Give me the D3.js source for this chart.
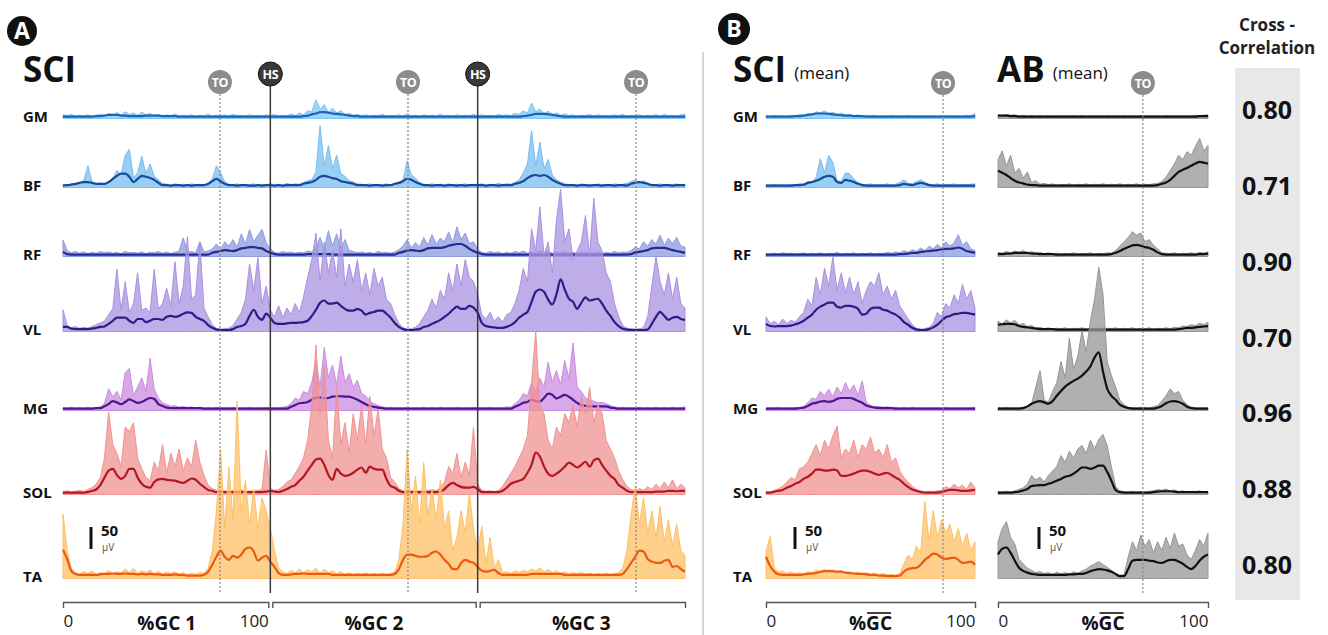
<!DOCTYPE html>
<html>
<head>
<meta charset="utf-8">
<script src="https://cdn.jsdelivr.net/npm/d3@7"></script>
<style>
  body { margin: 0; background: #fff; }
  svg { display: block; font-family: 'Open Sans', sans-serif; }
</style>
</head>
<body>
<svg id="chart" width="1328" height="635"></svg>
<script>
// ---- data: EMG amplitude (uV), sampled every 2 %GC ----
const muscles = ['GM', 'BF', 'RF', 'VL', 'MG', 'SOL', 'TA'];
const xcorr = [0.80, 0.71, 0.90, 0.70, 0.96, 0.88, 0.80];
const cycleTitles = ['%GC 1', '%GC 2', '%GC 3'];
const tickLabels = [0, 100];

// gait events (%GC)
const toA = [75.7, 166.4, 276.4];
const hsA = [100, 200];
const toB = 84.7;
const toAB = 69;

// panel A, SCI, three cycles (0..300)
const gmRawA = [5,3,6,2,4,3,5,2,4,6, 3,8,4,10,5,12,6,9,4,11, 5,8,3,6,2,5,3,7,2,4, 3,5,2,4,3,6,2,4,3,5, 2,6,3,4,2,5,3,4,2,5,
  3,6,2,4,3,7,3,9,5,14, 12,39,18,28,10,20,9,14,6,8, 4,6,3,5,2,4,3,6,2,4, 3,5,2,7,3,4,2,5,3,4, 2,6,3,4,2,5,3,4,3,6,
  2,5,3,4,2,6,3,5,3,8, 6,14,9,32,12,18,8,13,6,9, 4,7,3,5,2,4,3,6,2,5, 3,4,2,5,3,6,2,4,3,5, 2,4,3,5,2,6,3,4,2,5,6];
const gmEnvA = [1,1,1,1,1,1,1,1,2,2, 3,5,5,5,3,3,2,2,2,2, 3,3,3,3,2,2,2,2,1,1, 1,1,1,1,1,1,1,1,1,1, 1,1,1,1,1,1,1,1,1,1,
  1,1,1,1,1,1,1,1,2,3, 6,8,11,11,10,8,7,6,5,3, 2,2,1,1,1,1,1,1,1,1, 1,1,1,1,1,1,1,1,1,1, 1,1,1,1,1,1,1,1,1,1,
  1,1,1,1,1,1,1,1,1,1, 1,2,3,5,7,7,7,6,5,3, 2,1,1,1,1,1,1,1,1,1, 1,1,1,1,1,1,1,1,1,1, 1,1,1,1,1,1,1,1,1,1,1];

const bfRawA = [4,2,5,3,7,12,46,10,5,7, 4,9,16,35,25,70,83,18,30,68, 28,50,22,14,6,4,2,5,3,4, 2,5,3,4,2,6,16,46,30,10, 4,3,5,2,4,3,5,2,4,3,
  5,3,4,2,6,3,5,4,8,12, 14,32,137,45,92,40,70,28,22,12, 9,5,4,3,5,2,4,3,5,2, 5,9,14,57,25,18,8,4,3,5, 2,4,3,5,2,4,3,5,2,4,
  3,5,2,4,3,6,3,5,4,8, 14,30,50,126,45,100,40,60,25,14, 9,5,3,4,2,5,3,4,2,5, 3,4,2,5,3,4,6,10,14,8, 12,6,4,3,5,2,4,3,5,2,4];
const bfEnvA = [1,2,3,5,7,9,9,7,5,5, 5,9,16,23,28,28,21,9,16,23, 21,18,14,7,2,2,1,2,2,1, 2,1,2,2,2,5,11,16,11,5, 2,2,1,2,2,1,1,2,1,2,
  2,1,2,1,2,2,2,2,5,7, 9,14,21,23,21,18,16,11,9,7, 5,2,2,2,1,2,2,1,2,2, 5,7,11,16,14,9,5,2,2,1, 2,2,1,2,2,1,2,1,2,2,
  2,2,1,2,2,1,2,2,2,5, 7,11,18,23,25,23,25,21,14,9, 5,2,2,2,1,2,2,1,2,2, 1,2,2,1,2,2,1,5,7,9, 7,5,2,2,1,2,2,1,2,2,2];

const rfRawA = [34,10,5,8,4,7,3,6,4,8, 5,7,4,6,3,8,5,6,4,7, 3,6,5,8,4,7,3,6,9,39, 6,8,5,30,7,9,14,25,12,30, 20,35,18,48,25,58,30,45,58,28,
  14,6,4,8,5,7,4,6,5,9, 7,16,40,12,55,20,48,14,35,10, 8,5,7,4,6,3,8,5,6,4, 7,12,20,35,16,28,18,40,22,46, 25,38,30,52,28,64,35,50,26,30,
  12,6,4,8,5,7,3,6,4,8, 5,9,4,7,5,10,6,8,4,7, 5,8,4,6,3,7,5,6,4,7, 3,6,4,8,5,7,6,10,18,14, 30,20,35,25,45,22,38,26,40,20,18];
const rfEnvA = [7,2,1,1,1,1,1,1,1,1, 1,1,1,1,1,1,1,1,1,1, 1,1,1,1,1,1,1,1,1,1, 1,1,1,1,1,1,5,7,9,11, 10,9,11,15,16,18,18,16,15,9,
  5,2,1,1,1,1,1,1,1,2, 2,2,2,2,2,1,1,1,1,1, 1,1,1,1,1,1,1,1,1,1, 1,5,7,10,11,10,9,11,15,16, 16,16,18,21,23,25,25,21,14,9,
  5,2,1,1,1,1,1,1,1,1, 1,1,1,1,1,1,1,1,1,1, 1,1,1,1,1,1,1,1,1,1, 1,1,1,1,1,1,1,2,6,7, 9,11,15,16,16,16,14,11,9,7,5];

const vlRawA = [46,10,5,8,4,6,4,8,12,16, 20,35,48,138,45,110,40,60,130,45, 50,40,138,48,60,95,55,155,60,100, 212,70,80,200,50,30,12,4,2,3, 4,10,25,40,70,150,90,165,60,100,
  45,30,55,28,50,35,60,40,75,120, 160,220,110,200,130,180,120,230,100,150, 110,160,90,130,80,140,100,120,70,60, 35,15,5,2,3,6,15,30,45,70, 50,90,70,130,90,150,100,160,120,110,
  80,35,25,40,20,30,18,35,40,60, 90,140,110,230,180,280,170,200,130,250, 320,200,230,160,180,200,260,170,300,200, 180,130,110,60,30,10,4,3,2,3, 5,30,100,168,110,80,130,70,120,60,50];
const vlEnvA = [7,7,3,2,2,2,2,3,5,7, 8,14,21,28,28,28,21,16,25,25, 18,21,25,25,23,30,32,30,32,37, 40,39,30,25,21,11,5,1,0,0, 0,2,7,9,14,32,46,30,23,37,
  28,16,14,14,15,16,16,17,18,21, 32,46,62,67,60,60,62,55,48,44, 44,48,44,35,39,41,44,44,37,28, 16,7,2,0,0,1,2,7,9,14, 18,23,30,37,46,53,48,48,55,51,
  39,16,9,7,6,5,5,7,11,18, 28,35,41,64,87,92,87,69,58,81, 115,92,71,64,48,62,74,67,69,71, 60,44,32,18,9,3,1,0,0,0, 0,1,14,30,41,32,23,28,30,25,23];

const mgRawA = [3,2,4,2,3,2,4,2,3,5, 12,46,28,40,20,83,92,30,50,71, 40,115,45,25,14,10,6,8,4,6, 3,5,2,4,2,3,2,4,2,3, 2,4,2,3,2,4,2,3,2,4,
  2,3,2,4,6,12,25,20,40,35, 60,110,50,140,70,100,55,120,60,80, 50,65,35,30,18,12,8,5,3,4, 2,3,2,4,2,3,2,4,2,3, 2,4,2,3,2,4,2,3,2,4,
  2,3,2,4,2,3,2,5,4,12, 20,35,30,60,40,70,50,106,60,88, 55,110,70,150,50,40,25,20,18,14, 15,12,8,5,3,4,2,3,2,4, 2,3,2,4,2,3,2,4,2,3,5];
const mgEnvA = [1,1,1,1,1,1,1,1,2,2, 6,11,18,15,11,16,22,18,14,16, 21,25,23,11,7,3,2,2,2,2, 2,2,2,2,1,1,1,1,1,1, 1,1,1,1,1,1,1,1,1,1,
  1,1,1,1,1,5,9,13,14,16, 21,26,26,24,25,28,29,29,28,28, 25,21,16,11,7,5,3,2,1,1, 1,1,1,1,1,1,1,1,1,1, 1,1,1,1,1,1,1,1,1,1,
  1,1,1,1,1,1,1,1,1,5, 9,14,16,21,18,17,25,35,32,24, 28,32,28,21,14,9,7,6,6,6, 6,6,3,2,1,1,1,1,1,1, 1,1,1,1,1,1,1,1,1,1,1];

const solRawA = [3,5,2,4,6,3,8,12,20,35, 80,184,110,90,60,150,140,160,80,55, 35,28,70,50,110,45,90,60,100,50, 80,60,120,70,40,18,10,6,4,5, 3,6,4,8,3,5,4,6,8,98,
  10,6,8,15,25,30,45,60,80,120, 200,336,180,290,120,80,240,110,160,90, 180,120,200,110,220,130,190,100,80,35, 25,10,5,4,6,3,5,4,6,8, 5,12,25,60,45,90,35,70,40,150,
  20,6,4,5,3,6,15,30,45,60, 80,100,130,250,368,200,180,120,100,150, 130,180,160,200,150,220,180,240,160,200, 180,120,100,80,50,30,15,8,5,10, 6,14,8,20,10,25,12,30,10,20,12];
const solEnvA = [1,1,1,1,1,1,2,5,8,18, 35,51,55,41,32,39,55,55,35,21, 14,12,25,31,32,30,29,28,25,23, 28,33,30,21,14,7,5,2,2,2, 2,2,2,2,2,2,2,2,2,3,
  5,3,2,5,9,14,18,28,37,51, 64,76,78,64,41,30,55,44,39,41, 46,53,58,46,60,55,53,53,32,16, 12,5,2,2,2,2,2,2,2,2, 2,3,9,18,23,18,14,12,12,14,
  9,2,2,2,2,2,5,12,21,25, 28,32,46,64,92,83,60,44,39,44, 51,60,69,64,58,64,71,60,74,78, 64,51,39,32,18,12,5,2,2,2, 2,2,2,3,3,3,5,5,4,5,5];

const taRawA = [143,60,20,10,6,12,8,14,6,10, 8,15,7,12,9,18,10,20,8,14, 10,16,7,13,6,11,8,12,6,10, 5,9,6,10,8,20,60,150,290,110, 250,130,400,150,220,120,200,110,180,150,
  110,60,20,12,8,15,9,18,10,16, 12,20,8,18,10,14,7,12,6,10, 5,9,6,10,5,8,6,9,5,8, 12,40,120,290,150,230,120,260,140,200, 130,220,110,150,60,90,150,100,190,110,
  60,115,30,90,20,40,10,12,8,14, 10,15,12,18,14,20,12,17,10,14, 8,12,6,10,7,11,6,9,5,8, 6,9,5,8,10,20,60,140,207,120, 180,100,150,90,160,80,130,70,120,60,50];
const taEnvA = [62,41,14,7,5,5,5,5,5,6, 7,7,8,7,7,8,7,7,6,7, 6,7,6,6,5,5,5,6,5,5, 3,3,3,3,5,12,28,46,60,46, 39,48,44,51,64,67,58,37,44,48,
  35,23,9,5,5,6,7,7,8,7, 7,7,7,7,7,5,5,5,5,5, 5,5,5,5,5,5,5,5,5,5, 7,18,39,51,51,48,46,46,48,55, 58,51,39,30,18,18,32,39,35,32,
  23,14,12,14,16,9,5,5,5,5, 5,5,5,7,7,7,7,7,7,7, 7,5,5,5,5,5,5,5,5,5, 5,5,5,5,5,7,18,32,46,60, 58,41,35,32,32,37,39,23,25,18,12];

// panel B, SCI mean cycle (0..100)
const gmRawB = [3,2,4,2,3,2,4,3,5,4, 8,6,12,9,14,8,11,6,9,5, 6,3,5,2,4,3,4,2,3,2, 4,2,3,2,4,2,3,2,3,2, 3,2,4,2,3,2,3,2,4,3,8];
const gmEnvB = [1,1,1,1,1,1,1,2,2,3, 5,6,8,8,8,7,6,5,4,3, 3,2,2,2,1,1,1,1,1,1, 1,1,1,1,1,1,1,1,1,1, 1,1,1,1,1,1,1,1,1,1,2];
const bfRawB = [3,2,4,2,3,2,4,3,5,4, 10,8,20,62,30,70,53,12,10,30, 28,16,8,4,3,5,2,4,3,5, 2,4,8,14,6,5,10,14,9,4, 3,5,2,4,3,5,2,4,3,4,5];
const bfEnvB = [1,1,1,1,1,1,1,2,2,3, 7,9,12,16,21,23,21,9,7,14, 12,9,5,2,1,1,1,1,1,1, 1,1,2,5,3,2,5,7,5,2, 1,1,1,1,1,1,1,1,1,1,1];
const rfRawB = [3,2,4,2,5,3,4,2,3,5, 2,4,3,5,2,4,3,6,2,4, 3,5,2,4,3,5,2,4,3,6, 4,7,5,10,6,12,8,16,10,20, 14,24,16,30,20,28,46,22,30,14,10];
const rfEnvB = [1,1,1,1,1,1,1,1,1,1, 1,1,1,1,1,1,1,1,1,1, 1,1,1,1,1,1,1,1,1,1, 1,1,2,2,3,5,5,7,8,9, 10,11,13,14,14,15,17,14,9,7,5];
const vlRawB = [30,14,20,12,25,15,22,18,30,40, 70,55,120,80,140,100,166,90,130,85, 120,80,110,60,90,110,100,130,80,100, 70,90,55,40,25,12,4,2,3,6, 15,40,30,60,50,80,60,104,70,90,50];
const vlEnvB = [14,9,8,9,9,9,10,13,16,21, 28,35,46,53,58,62,62,53,51,55, 55,53,48,35,37,48,51,51,46,44, 39,35,28,18,12,5,1,0,0,2, 6,12,21,29,32,36,37,39,39,37,35];
const mgRawB = [2,3,2,4,2,3,2,4,3,6, 14,25,22,40,30,45,28,50,35,60, 40,55,30,64,15,8,5,6,4,5, 3,4,2,3,2,4,2,3,2,3, 2,3,2,4,2,3,2,3,2,3,4];
const mgEnvB = [1,1,1,1,1,1,1,1,2,3, 7,12,14,17,18,16,18,23,25,25, 25,23,18,14,8,5,3,2,2,2, 2,1,1,1,1,1,1,1,1,1, 1,1,1,1,1,1,1,1,1,1,1];
const solRawB = [3,2,6,10,15,25,35,30,55,60, 70,90,110,85,120,100,130,152,80,100, 90,120,80,110,100,127,90,100,80,110, 70,80,50,35,25,15,8,5,3,4, 3,5,6,14,10,20,12,18,8,25,12];
const solEnvB = [1,1,3,5,7,12,16,21,25,32, 37,44,53,53,51,51,53,51,39,39, 41,44,48,51,51,48,44,41,44,46, 41,35,30,21,14,8,5,2,1,1, 1,1,2,5,7,7,6,5,5,6,7];
const taRawB = [60,92,20,10,14,8,12,7,10,6, 12,9,16,12,18,11,16,10,14,9, 12,8,11,7,10,6,9,5,8,5, 6,4,8,30,50,40,70,55,172,80, 150,90,130,100,120,80,110,70,100,60,80];
const taEnvB = [46,25,12,6,5,5,5,5,5,6, 7,8,9,12,13,14,13,12,12,10, 9,8,7,7,6,5,5,3,3,2, 2,2,3,12,18,20,21,28,39,46, 53,51,44,41,43,44,39,32,33,35,28];

// panel B, able-bodied mean cycle (0..100)
const gmRawAB = [5,3,6,4,5,3,4,2,3,2, 3,2,3,2,3,2,3,2,3,2, 3,2,3,2,3,2,3,2,3,2, 3,2,3,2,3,2,3,2,3,2, 3,2,3,2,3,2,3,4,3,4,5];
const gmEnvAB = [3,3,3,2,2,1,1,1,1,1, 1,1,1,1,1,1,1,1,1,1, 1,1,1,1,1,1,1,1,1,1, 1,1,1,1,1,1,1,1,1,1, 1,1,1,1,1,1,1,1,2,2,2];
const bfRawAB = [60,80,45,70,30,40,18,32,8,12, 4,6,3,5,2,4,3,5,2,4, 3,5,2,4,3,5,2,4,3,5, 2,4,3,5,2,4,3,5,6,10, 20,35,50,70,60,78,70,90,108,80,92];
const bfEnvAB = [35,30,25,18,12,8,6,3,2,2, 1,1,1,1,1,1,1,1,1,1, 1,1,1,1,1,1,1,1,1,1, 1,1,1,1,1,1,1,1,2,5, 8,14,23,32,37,41,46,51,55,53,51];
const rfRawAB = [6,4,8,5,9,6,10,5,8,4, 6,3,5,3,4,2,4,3,5,2, 4,3,5,2,4,3,5,4,10,20, 30,40,53,45,50,30,35,22,14,5, 4,3,5,2,4,3,5,3,6,4,7];
const rfEnvAB = [2,2,3,3,5,5,5,5,3,3, 2,2,2,2,1,1,1,1,1,1, 1,1,1,1,1,1,1,2,5,9, 14,18,22,23,21,18,16,12,6,2, 1,1,1,1,1,1,1,1,2,2,3];
const vlRawAB = [20,14,23,16,22,12,15,8,10,5, 6,3,5,2,4,3,5,2,4,3, 5,2,4,3,5,2,4,3,5,2, 4,3,5,2,4,3,5,2,4,3, 5,3,6,5,9,8,12,10,16,12,18];
const vlEnvAB = [12,13,14,14,13,9,7,6,5,3, 2,2,2,2,1,1,1,1,1,1, 1,1,1,1,1,1,1,1,1,1, 1,1,1,1,1,1,1,1,1,1, 1,1,1,2,3,5,5,6,7,8,9];
const mgRawAB = [3,2,4,2,3,2,4,6,12,50, 87,20,16,40,60,108,70,161,90,120, 177,130,200,250,322,260,108,76,50,20, 10,4,3,2,4,3,2,5,8,18, 30,46,35,40,20,10,4,3,2,3,2];
const mgEnvAB = [1,1,1,1,1,1,2,6,12,16, 18,15,12,18,30,41,51,58,64,69, 76,85,97,117,129,85,46,30,21,10, 5,2,1,1,1,1,1,1,3,7, 13,17,18,16,12,5,2,1,1,1,1];
const solRawAB = [3,2,4,2,5,8,12,20,40,30, 36,25,40,50,60,85,70,95,80,100, 108,90,120,100,122,133,108,60,15,5, 3,2,4,2,3,2,4,5,8,6, 9,5,7,3,5,2,4,3,5,2,4];
const solEnvAB = [1,1,1,1,2,3,6,9,16,17, 18,18,21,24,28,32,37,39,44,51, 58,58,55,58,62,62,48,28,7,2, 1,1,1,1,1,1,1,2,3,4, 4,4,3,2,2,2,2,2,2,2,2];
const taRawAB = [80,110,126,90,75,40,30,20,15,10, 12,8,10,6,11,7,10,6,12,8, 14,18,25,30,35,28,22,15,8,4, 5,45,80,60,95,70,85,55,80,60, 90,65,100,70,75,50,40,60,85,70,100];
const taEnvAB = [51,64,67,55,37,21,14,10,7,6, 5,5,5,5,5,5,5,6,6,7, 7,9,13,16,18,17,15,12,7,2, 2,18,37,39,39,39,37,36,33,32, 36,39,39,35,30,23,18,25,37,46,51];

// ---- table built from the arrays ----
const rawA = [gmRawA, bfRawA, rfRawA, vlRawA, mgRawA, solRawA, taRawA];
const envA = [gmEnvA, bfEnvA, rfEnvA, vlEnvA, mgEnvA, solEnvA, taEnvA];
const rawB = [gmRawB, bfRawB, rfRawB, vlRawB, mgRawB, solRawB, taRawB];
const envB = [gmEnvB, bfEnvB, rfEnvB, vlEnvB, mgEnvB, solEnvB, taEnvB];
const rawAB = [gmRawAB, bfRawAB, rfRawAB, vlRawAB, mgRawAB, solRawAB, taRawAB];
const envAB = [gmEnvAB, bfEnvAB, rfEnvAB, vlEnvAB, mgEnvAB, solEnvAB, taEnvAB];

// ---- layout ----
const step = 2;
const rowY = [117, 186, 255, 330, 409, 493, 577];
const rawColors = ['#7cc4f4', '#78bdf2', '#8e9ae0', '#a892e0', '#c98ce0', '#f09292', '#fdc066'];
const envColors = ['#1c64b4', '#154a9c', '#232c8c', '#2e1c86', '#4b168e', '#b3181e', '#ec5a10'];
const axisY = 602, eventBottom = 593;

const svg = d3.select('#chart');
const amp = d3.scaleLinear().domain([0, 50]).range([0, 22]);
const xA = d3.scaleLinear().domain([0, 300]).range([63, 685]);
const xB = d3.scaleLinear().domain([0, 100]).range([766, 975]);
const xAB = d3.scaleLinear().domain([0, 100]).range([998, 1208]);

function drawTrace(g, x, base, raw, env, rawCol, envCol) {
  const area = d3.area()
    .x((d, i) => x(i * step))
    .y0(base + 1.5)
    .y1(d => base - amp(d));
  g.append('path').datum(raw)
    .attr('d', area)
    .attr('fill', rawCol)
    .attr('fill-opacity', 0.75)
    .attr('stroke', rawCol)
    .attr('stroke-width', 1)
    .attr('stroke-linejoin', 'miter')
    .attr('stroke-miterlimit', 20);
  const line = d3.line()
    .x((d, i) => x(i * step))
    .y(d => base - amp(d))
    .curve(d3.curveMonotoneX);
  g.append('path').datum(env)
    .attr('d', line)
    .attr('fill', 'none')
    .attr('stroke', envCol)
    .attr('stroke-width', 2.2);
}

const traces = svg.append('g').attr('class', 'traces');
muscles.forEach((m, i) => {
  drawTrace(traces, xA, rowY[i], rawA[i], envA[i], rawColors[i], envColors[i]);
  drawTrace(traces, xB, rowY[i], rawB[i], envB[i], rawColors[i], envColors[i]);
  drawTrace(traces, xAB, rowY[i], rawAB[i], envAB[i], '#969696', '#111');
});

// gait events
const events = svg.append('g').attr('class', 'events');
function eventMarker(x, label, cy) {
  const hs = label === 'HS';
  events.append('line')
    .attr('x1', x).attr('x2', x)
    .attr('y1', cy + 12).attr('y2', eventBottom)
    .attr('stroke', hs ? '#3a3a3a' : '#858585')
    .attr('stroke-width', hs ? 1.5 : 1.2)
    .attr('stroke-dasharray', hs ? null : '2,2');
  events.append('circle')
    .attr('cx', x).attr('cy', cy).attr('r', 12)
    .attr('fill', hs ? '#3a3a3a' : '#8c8c8c')
    .attr('stroke', hs ? '#111' : 'none')
    .attr('stroke-width', 1);
  events.append('text')
    .attr('x', x).attr('y', cy + 4.5)
    .attr('text-anchor', 'middle')
    .attr('font-size', 12.5).attr('font-weight', 700)
    .attr('letter-spacing', -0.5)
    .attr('fill', '#fff')
    .text(label);
}
toA.forEach(t => eventMarker(xA(t), 'TO', 82));
hsA.forEach(t => eventMarker(xA(t), 'HS', 74));
eventMarker(xB(toB), 'TO', 83);
eventMarker(xAB(toAB), 'TO', 83);

// axes (brackets)
function bracket(scale, ticks) {
  const g = svg.append('g')
    .attr('transform', 'translate(0,' + axisY + ')')
    .call(d3.axisBottom(scale).tickValues(ticks).tickSizeInner(0).tickSizeOuter(6).tickPadding(13).tickFormat(d => String(d - scale.domain()[0])));
  g.select('.domain').attr('stroke', '#555').attr('stroke-width', 1.4);
  g.selectAll('text')
    .attr('font-size', 17)
    .attr('font-family', "'Open Sans', sans-serif")
    .attr('fill', '#222')
    .attr('text-anchor', (d, i) => i === 0 ? 'start' : 'end');
  return g;
}
[0, 1, 2].forEach(c => {
  const s = d3.scaleLinear()
    .domain([100 * c, 100 * c + 100])
    .range([xA(100 * c) + (c ? 2 : 0), xA(100 * c + 100) - (c < 2 ? 2 : 0)]);
  bracket(s, c === 0 ? tickLabels : []);
  svg.append('text')
    .attr('x', xA(100 * c + 50)).attr('y', 630)
    .attr('text-anchor', 'middle')
    .attr('font-size', 19).attr('font-weight', 700).attr('fill', '#111')
    .text(cycleTitles[c]);
});
bracket(xB, tickLabels);
bracket(xAB, tickLabels);

function meanTitle(cx) {
  const t = svg.append('text')
    .attr('x', cx).attr('y', 630)
    .attr('text-anchor', 'middle')
    .attr('font-size', 19).attr('font-weight', 700).attr('fill', '#111')
    .text('%GC');
  const n = t.node();
  const a = n.getExtentOfChar(1), b = n.getExtentOfChar(2);
  svg.append('line')
    .attr('x1', a.x + 1).attr('x2', b.x + b.width - 1)
    .attr('y1', a.y + 3).attr('y2', a.y + 3)
    .attr('stroke', '#111').attr('stroke-width', 1.6);
}
meanTitle(xB(50));
meanTitle(xAB(50));

// 50 uV scale bars
function scaleBar(x) {
  const bottom = 549;
  svg.append('line')
    .attr('x1', x).attr('x2', x)
    .attr('y1', bottom).attr('y2', bottom - amp(50))
    .attr('stroke', '#111').attr('stroke-width', 3);
  svg.append('text').attr('x', x + 10).attr('y', 536)
    .attr('font-size', 15).attr('font-weight', 700).attr('fill', '#111').text('50');
  svg.append('text').attr('x', x + 11).attr('y', 551)
    .attr('font-size', 10).attr('fill', '#555').text('\u00b5V');
}
scaleBar(91);
scaleBar(795);
scaleBar(1039);

// row labels
muscles.forEach((m, i) => {
  [23, 733].forEach(x => {
    svg.append('text')
      .attr('x', x).attr('y', rowY[i] + 5)
      .attr('font-size', 15).attr('font-weight', 700).attr('fill', '#111')
      .text(m);
  });
});

// titles
function badge(cx, cy, r, letter) {
  svg.append('circle').attr('cx', cx).attr('cy', cy).attr('r', r).attr('fill', '#111');
  svg.append('text').attr('x', cx).attr('y', cy + 8)
    .attr('text-anchor', 'middle')
    .attr('font-size', 23).attr('font-weight', 700).attr('fill', '#fff')
    .text(letter);
}
badge(22, 31, 15, 'A');
badge(734, 29, 16, 'B');

function title(x, main, sub) {
  const t = svg.append('text').attr('x', x).attr('y', 82)
    .attr('font-size', 35).attr('font-weight', 700).attr('fill', '#111')
    .text(main);
  if (sub) {
    const w = t.node().getComputedTextLength();
    svg.append('text').attr('x', x + w + 8).attr('y', 79)
      .attr('font-size', 17).attr('fill', '#111').text(sub);
  }
}
title(23, 'SCI');
title(733, 'SCI', '(mean)');
title(997, 'AB', '(mean)');

// panel divider
svg.append('line')
  .attr('x1', 703).attr('x2', 703).attr('y1', 52).attr('y2', 635)
  .attr('stroke', '#c8c8c8').attr('stroke-width', 1.5);

// cross-correlation column
const cc = d3.scalePoint().domain(muscles).range([110, 565]);
svg.append('rect')
  .attr('x', 1235).attr('y', 68).attr('width', 65).attr('height', 532)
  .attr('fill', '#e8e8e8');
svg.selectAll('.cc').data(muscles).join('text')
  .attr('class', 'cc')
  .attr('x', 1267).attr('y', d => cc(d) + 9)
  .attr('text-anchor', 'middle')
  .attr('font-size', 25).attr('font-weight', 700).attr('fill', '#111')
  .text((d, i) => xcorr[i].toFixed(2));
svg.append('text').attr('x', 1267).attr('y', 31)
  .attr('text-anchor', 'middle').attr('font-size', 17).attr('font-weight', 700).attr('fill', '#222')
  .text('Cross -');
svg.append('text').attr('x', 1267).attr('y', 54)
  .attr('text-anchor', 'middle').attr('font-size', 17).attr('font-weight', 700).attr('fill', '#222')
  .text('Correlation');

// sanity check on array lengths
rawA.concat(envA).forEach((a, i) => { if (a.length !== 151) console.warn('panel A array', i, a.length); });
rawB.concat(envB, rawAB, envAB).forEach((a, i) => { if (a.length !== 51) console.warn('panel B array', i, a.length); });
</script>
</body>
</html>
